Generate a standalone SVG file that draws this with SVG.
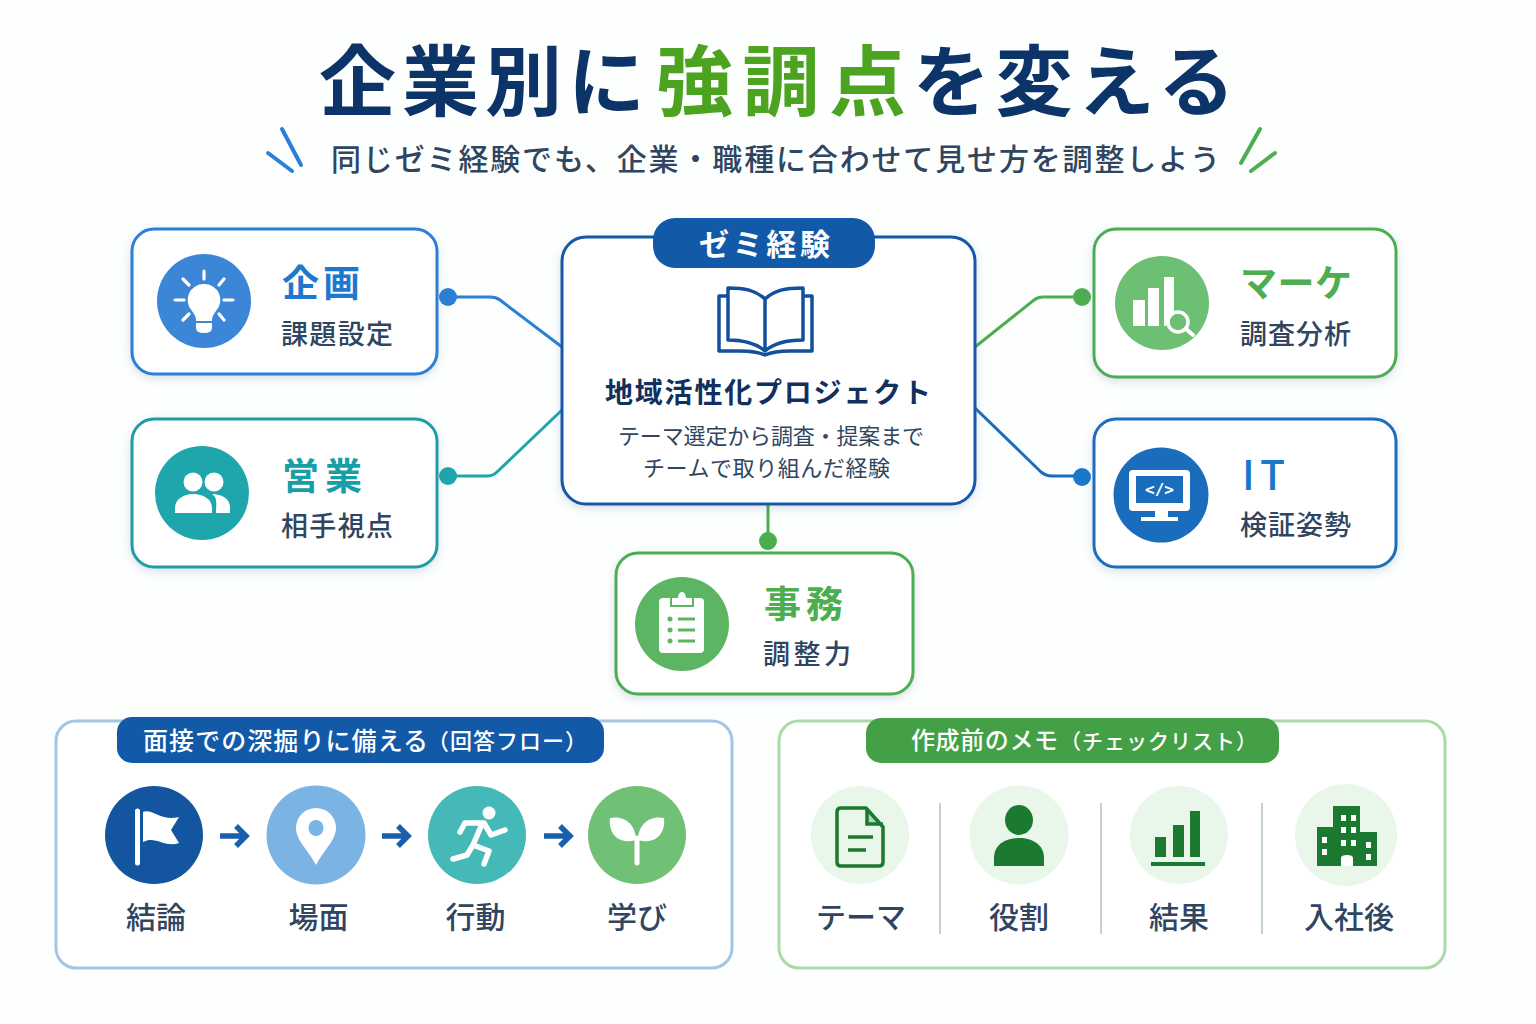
<svg xmlns="http://www.w3.org/2000/svg" width="1536" height="1024" viewBox="0 0 1536 1024">
<style>
text{font-family:"Noto Sans CJK JP","Noto Sans",sans-serif}
.card{fill:#fff;stroke-width:3;filter:url(#sh)}
.sub{font-size:27px;fill:#2f4560;font-weight:500}
.hd{font-size:37px;font-weight:700}
.lab{font-size:30px;fill:#2f4560;font-weight:500;text-anchor:middle}
.pill{font-weight:700;fill:#fff}
.w{fill:#fff}
.ws{fill:none;stroke:#fff;stroke-linecap:round;stroke-linejoin:round}
.g{fill:#1b7a2f}
.lnk{fill:none;stroke-width:3;stroke-linejoin:round}
.arr{fill:none;stroke:#1a5fae;stroke-width:5.5}
.div{stroke:#c2d0d0;stroke-width:2}
</style>
<defs>
<filter id="sh" x="-10%" y="-10%" width="120%" height="125%"><feDropShadow dx="0" dy="3" stdDeviation="4" flood-color="#4a6a8a" flood-opacity=".2"/></filter>
</defs>
<rect width="1536" height="1024" fill="#fdfefe"/>
<g id="title">
<text y="110" x="319" font-size="77" font-weight="700" fill="#0d3468" textLength="326">企業別に</text>
<text y="110" x="656" font-size="77" font-weight="700" fill="#4ba31f" textLength="250">強調点</text>
<text y="110" x="913" font-size="77" font-weight="700" fill="#0d3468" textLength="322">を変える</text>
<text y="170" x="331" font-size="30" font-weight="500" fill="#2f4560" textLength="889">同じゼミ経験でも、企業・職種に合わせて見せ方を調整しよう</text>
<g fill="none" stroke-width="4" stroke-linecap="round">
<path d="M282 129 301 165M268 153 292 171" stroke="#2a7fd6"/>
<path d="M1260 129 1241 163M1275 153 1251 171" stroke="#4cae50"/>
</g>
</g>
<g id="connectors">
<path class="lnk" stroke="#2a7fd6" d="M448 297H490Q496 297 500 300L562 347"/>
<path class="lnk" stroke="#1fa5ac" d="M448 476H487Q493 476 497 472L562 410"/>
<path class="lnk" stroke="#4cae50" d="M1082 297H1043Q1038 297 1034 300L975 347"/>
<path class="lnk" stroke="#1a6dbd" d="M1082 476H1052Q1046 476 1041 472L975 408"/>
<path class="lnk" stroke="#4cae50" d="M768 504V541"/>
<circle cx="448" cy="297" r="9" fill="#2a7fd6"/>
<circle cx="448" cy="476" r="9" fill="#1fa5ac"/>
<circle cx="1082" cy="297" r="9" fill="#4cae50"/>
<circle cx="1082" cy="477" r="9" fill="#1a78cc"/>
<circle cx="768" cy="541" r="9" fill="#4cae50"/>
</g>
<g id="node-kikaku">
<rect class="card" x="132" y="229" width="305" height="145" rx="22" stroke="#2a7fd6"/>
<circle cx="204" cy="301" r="47" fill="#3b86d6"/>
<path class="ws" stroke-width="3.2" d="M204 271V279M224 300H233M175 300H184M183 279 189 285M224 279 219 285M183 320 189 314M224 320 219 314"/>
<path class="w" d="M204 284A16 16 0 0 1 216 311C213 315 212 317 212 321H196C196 317 195 315 192 311A16 16 0 0 1 204 284Z"/>
<path class="w" d="M196 323H212V328Q212 333 204 333 196 333 196 328Z"/>
<text class="hd" x="282" y="297" fill="#1f78cf" textLength="78">企画</text>
<text class="sub" x="281" y="344" textLength="112">課題設定</text>
</g>
<g id="node-eigyo">
<rect class="card" x="132" y="419" width="305" height="148" rx="22" stroke="#1a9ea6"/>
<circle cx="202" cy="493" r="47" fill="#1fa5ac"/>
<circle class="w" cx="193" cy="482" r="9.5"/><circle class="w" cx="214" cy="482" r="9.5"/>
<path class="w" d="M216 513H230V507C230 499 222 494 212 494 218 498 216 504 216 513Z"/>
<path class="w" d="M175 513V508C175 499 184 494 193 494 203 494 212 499 212 508V513Z"/>
<text class="hd" x="282" y="490" fill="#1a9ea6" textLength="80">営業</text>
<text class="sub" x="281" y="536" textLength="112">相手視点</text>
</g>
<g id="node-marke">
<rect class="card" x="1094" y="229" width="302" height="148" rx="22" stroke="#4cae50"/>
<circle cx="1162" cy="303" r="47" fill="#6cbf73"/>
<path class="w" d="M1133 300H1145V326H1133ZM1148 288H1159V326H1148ZM1164 277H1174V312L1166 326H1164Z"/>
<circle cx="1178" cy="322" r="10" fill="#6cbf73" stroke="#fff" stroke-width="3.5"/>
<path class="ws" stroke-width="4" d="M1186 329 1193 335"/>
<text class="hd" x="1240" y="297" fill="#4cae50" textLength="112">マーケ</text>
<text class="sub" x="1240" y="344" textLength="111">調査分析</text>
</g>
<g id="node-it">
<rect class="card" x="1094" y="419" width="302" height="148" rx="22" stroke="#1a6dbd"/>
<circle cx="1161" cy="495" r="47.5" fill="#1a6dbd"/>
<rect class="w" x="1129" y="470" width="61" height="41" rx="4"/>
<rect x="1136" y="476" width="47" height="27" fill="#1a6dbd"/>
<path class="w" d="M1155 511H1168V517H1178V521H1141V517H1155Z"/>
<text x="1159.500" y="495" font-size="16" font-weight="700" fill="#fff" text-anchor="middle" style="font-family:'DejaVu Sans Mono',monospace">&lt;/&gt;</text>
<text x="1242" y="490" fill="#1a78cc" font-size="41" font-weight="500" textLength="43">IT</text>
<text class="sub" x="1240" y="535" textLength="111">検証姿勢</text>
</g>
<g id="node-jimu">
<rect class="card" x="616" y="553" width="297" height="141" rx="22" stroke="#4cae50"/>
<circle cx="682" cy="624" r="47" fill="#5cb562"/>
<rect class="w" x="659" y="598" width="45" height="55" rx="4"/>
<path class="w" stroke="#5cb562" stroke-width="2" d="M671 606V597H677Q678 591 682 591 686 591 687 597H693V606Z"/>
<g fill="#5cb562"><circle cx="670" cy="619" r="2.500"/><circle cx="670" cy="630" r="2.500"/><circle cx="670" cy="641" r="2.500"/></g>
<path fill="none" stroke="#5cb562" stroke-width="3" d="M678 619H695M678 630H695M678 641H695"/>
<text class="hd" x="764" y="618" fill="#4cae50" textLength="79">事務</text>
<text class="sub" x="763" y="664" textLength="88">調整力</text>
</g>
<g id="node-center">
<rect class="card" x="562" y="237" width="413" height="267" rx="24" stroke="#1259a8"/>
<rect x="653" y="218" width="222" height="50" rx="22" fill="#1259a8"/>
<text class="pill" x="699" y="255" font-size="30" textLength="131">ゼミ経験</text>
<g fill="none" stroke="#12509e" stroke-width="3.500" stroke-linejoin="round">
<path d="M765 299C755 290 745 288 728 288V340C745 340 757 344 765 351 773 344 785 340 803 340V288C785 288 775 290 765 299V351"/>
<path d="M728 296H719V351H740C750 351 758 352 765 355 772 352 780 351 790 351H812V296H803"/>
</g>
<text x="605" y="403" font-size="28" font-weight="700" fill="#12305e" textLength="326">地域活性化プロジェクト</text>
<text x="618" y="444" font-size="22" fill="#2f4560" textLength="306">テーマ選定から調査・提案まで</text>
<text x="643" y="476" font-size="22" fill="#2f4560" textLength="247">チームで取り組んだ経験</text>
</g>
<g id="panel-flow">
<rect x="56" y="721" width="676" height="247" rx="20" fill="#fff" stroke="#a3c5e6" stroke-width="3"/>
<rect x="117" y="717" width="487" height="46" rx="15" fill="#1259a8"/>
<text class="pill" x="143" y="750" font-size="25" style="font-weight:500" textLength="285">面接での深掘りに備える</text>
<text class="pill" x="427" y="749" font-size="22" style="font-weight:500" textLength="160">（回答フロー）</text>
</g>
<g id="step-ketsuron">
<circle cx="154" cy="835" r="49" fill="#13569f"/>
<path class="w" d="M135 811A2.500 2.500 0 0 1 140 811V863A2.500 2.500 0 0 1 135 863ZM143 812C152 808 162 822 179 817L171 830 179 843C165 848 155 835 143 842Z"/>
<text class="lab" x="156" y="928">結論</text>
</g>
<g id="step-bamen">
<circle cx="316" cy="835" r="49.500" fill="#7ab3e4"/>
<path class="w" d="M316 865C308 850 296 840 296 828A20 20 0 0 1 336 828C336 840 324 850 316 865Z"/>
<ellipse cx="316" cy="828" rx="7.500" ry="8" fill="#7ab3e4"/>
<text class="lab" x="318.500" y="928">場面</text>
</g>
<g id="step-kodo">
<circle cx="477" cy="835" r="49" fill="#45b8b8"/>
<circle class="w" cx="489" cy="813" r="6.500"/>
<path class="ws" stroke-width="5.5" d="M460 832 465 823H484L491 835 505 830M482 824 473 845 467 855 453 859M473 845 489 851 484 864"/>
<text class="lab" x="475.500" y="928">行動</text>
</g>
<g id="step-manabi">
<circle cx="637" cy="835" r="49" fill="#70c075"/>
<path class="w" d="M610 818C625 815 636 825 636 840 620 845 608 835 610 818ZM664 818C649 815 638 825 638 840 654 845 666 835 664 818Z"/>
<path class="ws" stroke-width="5" d="M637 838V863"/>
<text class="lab" x="637" y="928">学び</text>
</g>
<g id="flow-arrows" class="arr">
<path d="M220 836H245M236 826 246 836 236 846"/>
<path d="M382 836H407M398 826 408 836 398 846"/>
<path d="M544 836H569M560 826 570 836 560 846"/>
</g>
<g id="panel-check">
<rect x="779" y="721" width="666" height="247" rx="20" fill="#fff" stroke="#a9dba9" stroke-width="3"/>
<rect x="866" y="718" width="413" height="45" rx="15" fill="#43a047"/>
<text class="pill" x="911" y="749" font-size="24" style="font-weight:500" textLength="147">作成前のメモ</text>
<text class="pill" x="1060" y="749" font-size="21" style="font-weight:500" textLength="197">（チェックリスト）</text>
<path class="div" d="M940 803V934M1101 803V934M1262 803V934"/>
</g>
<g id="check-theme">
<circle cx="860" cy="835" r="49" fill="#e9f6ea"/>
<path fill="none" stroke="#1b7a2f" stroke-width="3.500" stroke-linejoin="round" d="M841 808H866L883 827V862Q883 866 879 866H841Q837 866 837 862V812Q837 808 841 808Z"/>
<path class="g" d="M867 809V825H882Z" fill-opacity=".25"/>
<path fill="none" stroke="#1b7a2f" stroke-width="3.500" d="M867 808V824H883M848 837H873M848 850H866"/>
<text class="lab" x="861" y="928">テーマ</text>
</g>
<g id="check-role">
<circle cx="1019" cy="835" r="49.500" fill="#e9f6ea"/>
<ellipse class="g" cx="1019" cy="820" rx="14" ry="15"/>
<path class="g" d="M994 866V858C994 845 1005 838 1019 838 1033 838 1044 845 1044 858V866Z"/>
<text class="lab" x="1019" y="928">役割</text>
</g>
<g id="check-result">
<circle cx="1179" cy="835" r="49" fill="#e9f6ea"/>
<path class="g" d="M1155 837H1166V857H1155ZM1173 825H1184V857H1173ZM1190 811H1200V857H1190ZM1151 862H1205V866H1151Z"/>
<text class="lab" x="1179" y="928">結果</text>
</g>
<g id="check-after">
<circle cx="1346" cy="835" r="51" fill="#e9f6ea"/>
<path class="g" d="M1333 806H1360V832H1377V866H1317V827H1333Z"/>
<path class="w" d="M1341 815H1346V821H1341ZM1351 815H1356V821H1351ZM1341 827H1346V833H1341ZM1351 827H1356V833H1351ZM1341 840H1346V846H1341ZM1351 840H1356V846H1351ZM1322 837H1327V843H1322ZM1322 849H1327V855H1322ZM1366 842H1371V848H1366ZM1366 854H1371V860H1366ZM1341 866V858Q1341 855 1347 855 1353 855 1353 858V866Z"/>
<text class="lab" x="1349" y="928">入社後</text>
</g>
</svg>
